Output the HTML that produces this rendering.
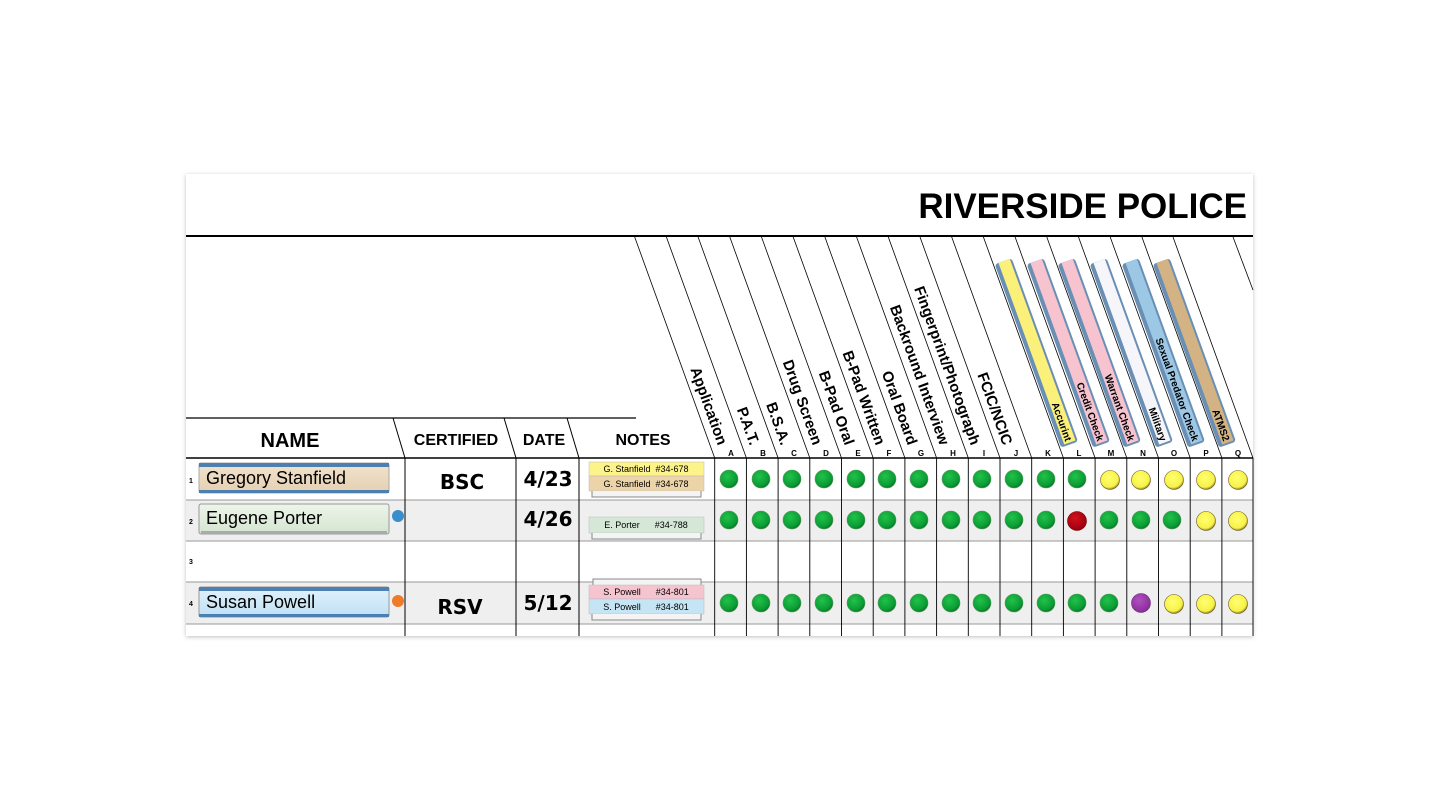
<!DOCTYPE html>
<html><head><meta charset="utf-8"><style>
html,body{margin:0;padding:0;background:#fff;width:1440px;height:810px;overflow:hidden}
svg{display:block;font-family:"Liberation Sans",Arial,sans-serif}
</style></head><body>
<svg width="1440" height="810" viewBox="0 0 1440 810" xmlns="http://www.w3.org/2000/svg">
<defs>
<filter id="sh" x="-5%" y="-5%" width="110%" height="110%"><feDropShadow dx="0" dy="1" stdDeviation="2" flood-color="#000" flood-opacity="0.25"/></filter>
<radialGradient id="gG" cx="40%" cy="35%" r="65%"><stop offset="0" stop-color="#22c24a"/><stop offset="0.8" stop-color="#0a9c34"/><stop offset="1" stop-color="#087a28"/></radialGradient>
<radialGradient id="gY" cx="45%" cy="40%" r="60%"><stop offset="0" stop-color="#ffff70"/><stop offset="0.8" stop-color="#f7f247"/><stop offset="1" stop-color="#8a7a30"/></radialGradient>
<radialGradient id="gR" cx="40%" cy="35%" r="65%"><stop offset="0" stop-color="#d4101c"/><stop offset="1" stop-color="#9a0010"/></radialGradient>
<radialGradient id="gP" cx="40%" cy="35%" r="65%"><stop offset="0" stop-color="#b050c0"/><stop offset="1" stop-color="#8a2e9a"/></radialGradient>
<linearGradient id="nTan" x1="0" y1="0" x2="0" y2="1"><stop offset="0" stop-color="#f2e3cd"/><stop offset="1" stop-color="#e4d0b2"/></linearGradient>
<linearGradient id="nGrn" x1="0" y1="0" x2="0" y2="1"><stop offset="0" stop-color="#eef5ea"/><stop offset="1" stop-color="#d4e4d0"/></linearGradient>
<linearGradient id="nBlu" x1="0" y1="0" x2="0" y2="1"><stop offset="0" stop-color="#e2f2fc"/><stop offset="1" stop-color="#bfe0f4"/></linearGradient>
</defs>

<rect x="186" y="174" width="1067" height="462" fill="#fff" filter="url(#sh)"/>
<text x="1247" y="218" font-size="35" font-weight="bold" text-anchor="end">RIVERSIDE POLICE</text>
<line x1="186" y1="236" x2="1253" y2="236" stroke="#000" stroke-width="2"/>

<rect x="186" y="500" width="1067" height="41" fill="#efefef"/>
<rect x="186" y="582" width="1067" height="42" fill="#efefef"/>

<line x1="186" y1="418" x2="636" y2="418" stroke="#000" stroke-width="1.2"/>
<line x1="393" y1="418" x2="405" y2="458" stroke="#000"/>
<line x1="504" y1="418" x2="516" y2="458" stroke="#000"/>
<line x1="567" y1="418" x2="579" y2="458" stroke="#000"/>
<text x="290" y="447" font-size="20" font-weight="bold" text-anchor="middle">NAME</text>
<text x="456" y="445" font-size="16" font-weight="bold" text-anchor="middle">CERTIFIED</text>
<text x="544" y="445" font-size="16" font-weight="bold" text-anchor="middle">DATE</text>
<text x="643" y="445" font-size="16" font-weight="bold" text-anchor="middle">NOTES</text>

<g stroke="#999" stroke-width="1">
<line x1="186" y1="500" x2="1253" y2="500"/>
<line x1="186" y1="541" x2="1253" y2="541"/>
<line x1="186" y1="582" x2="1253" y2="582"/>
<line x1="186" y1="624" x2="1253" y2="624"/>
</g>
<line x1="186" y1="458" x2="1253" y2="458" stroke="#000" stroke-width="1.5"/>
<g stroke="#000" stroke-width="1">
<line x1="405" y1="458" x2="405" y2="636"/>
<line x1="516" y1="458" x2="516" y2="636"/>
<line x1="579" y1="458" x2="579" y2="636"/>
</g>

<g>
<rect x="199" y="463" width="190" height="30" rx="2" fill="url(#nTan)" stroke="#aaa"/>
<rect x="199" y="463" width="190" height="4" fill="#4d7fb0"/>
<rect x="199" y="490" width="190" height="3" fill="#4d7fb0"/>
<text x="206" y="484" font-size="18">Gregory Stanfield</text>
<rect x="199" y="504" width="190" height="30" rx="2" fill="url(#nGrn)" stroke="#999"/>
<rect x="201" y="531" width="186" height="3" fill="#aaa"/>
<text x="206" y="524" font-size="18">Eugene Porter</text>
<circle cx="398" cy="516" r="6" fill="#3a8ecb"/>
<rect x="199" y="587" width="190" height="30" rx="2" fill="url(#nBlu)" stroke="#999"/>
<rect x="199" y="587" width="190" height="4" fill="#4d7fb0"/>
<rect x="199" y="614" width="190" height="3" fill="#4d7fb0"/>
<text x="206" y="608" font-size="18">Susan Powell</text>
<circle cx="398" cy="601" r="6" fill="#ee7a2a"/>
</g>
<g font-size="7" font-weight="bold">
<text x="189" y="483">1</text><text x="189" y="524">2</text><text x="189" y="564">3</text><text x="189" y="606">4</text>
</g>
<g font-size="20" font-weight="bold" text-anchor="middle" font-family="DejaVu Sans,sans-serif">
<text x="462" y="489">BSC</text>
<text x="548" y="486">4/23</text>
<text x="548" y="526">4/26</text>
<text x="460" y="614">RSV</text>
<text x="548" y="610">5/12</text>
</g>

<g font-size="9">
<rect x="589" y="462" width="115" height="14" fill="#fcf38a" stroke="#bbb" stroke-width="0.5"/>
<rect x="589" y="476" width="115" height="15" fill="#ecd3a8" stroke="#bbb" stroke-width="0.5"/>
<path d="M592 491 v6 h109 v-6" fill="#f4f4f4" stroke="#888"/>
<text x="646" y="472" text-anchor="middle" xml:space="preserve">G. Stanfield  #34-678</text>
<text x="646" y="487" text-anchor="middle" xml:space="preserve">G. Stanfield  #34-678</text>
<rect x="589" y="517" width="115" height="16" fill="#d5e8d8" stroke="#bbb" stroke-width="0.5"/>
<path d="M592 533 v6 h109 v-6" fill="#f4f4f4" stroke="#888"/>
<text x="646" y="528" text-anchor="middle" xml:space="preserve">E. Porter      #34-788</text>
<path d="M593 585 v-6 h108 v6" fill="#f4f4f4" stroke="#888"/>
<rect x="589" y="585" width="115" height="14" fill="#f6c4cf" stroke="#bbb" stroke-width="0.5"/>
<rect x="589" y="599" width="115" height="15" fill="#c5e4f4" stroke="#bbb" stroke-width="0.5"/>
<path d="M592 614 v6 h109 v-6" fill="#f4f4f4" stroke="#888"/>
<text x="646" y="595" text-anchor="middle" xml:space="preserve">S. Powell      #34-801</text>
<text x="646" y="610" text-anchor="middle" xml:space="preserve">S. Powell      #34-801</text>
</g>

<g stroke="#000" stroke-width="0.9">
<line x1="714.7" y1="458" x2="714.7" y2="636"/><line x1="746.4" y1="458" x2="746.4" y2="636"/><line x1="778.1" y1="458" x2="778.1" y2="636"/><line x1="809.8" y1="458" x2="809.8" y2="636"/><line x1="841.5" y1="458" x2="841.5" y2="636"/><line x1="873.2" y1="458" x2="873.2" y2="636"/><line x1="904.9" y1="458" x2="904.9" y2="636"/><line x1="936.6" y1="458" x2="936.6" y2="636"/><line x1="968.3" y1="458" x2="968.3" y2="636"/><line x1="1000" y1="458" x2="1000" y2="636"/><line x1="1031.7" y1="458" x2="1031.7" y2="636"/><line x1="1063.4" y1="458" x2="1063.4" y2="636"/><line x1="1095.1" y1="458" x2="1095.1" y2="636"/><line x1="1126.8" y1="458" x2="1126.8" y2="636"/><line x1="1158.5" y1="458" x2="1158.5" y2="636"/><line x1="1190.2" y1="458" x2="1190.2" y2="636"/><line x1="1221.9" y1="458" x2="1221.9" y2="636"/><line x1="1253" y1="458" x2="1253" y2="636"/>
</g>
<g stroke="#000" stroke-width="0.8">
<line x1="714.7" y1="458" x2="634.7" y2="237"/><line x1="746.4" y1="458" x2="666.4" y2="237"/><line x1="778.1" y1="458" x2="698.1" y2="237"/><line x1="809.8" y1="458" x2="729.8" y2="237"/><line x1="841.5" y1="458" x2="761.5" y2="237"/><line x1="873.2" y1="458" x2="793.2" y2="237"/><line x1="904.9" y1="458" x2="824.9" y2="237"/><line x1="936.6" y1="458" x2="856.6" y2="237"/><line x1="968.3" y1="458" x2="888.3" y2="237"/><line x1="1000" y1="458" x2="920" y2="237"/><line x1="1031.7" y1="458" x2="951.7" y2="237"/><line x1="1063.4" y1="458" x2="983.4" y2="237"/><line x1="1095.1" y1="458" x2="1015.1" y2="237"/><line x1="1126.8" y1="458" x2="1046.8" y2="237"/><line x1="1158.5" y1="458" x2="1078.5" y2="237"/><line x1="1190.2" y1="458" x2="1110.2" y2="237"/><line x1="1221.9" y1="458" x2="1141.9" y2="237"/><line x1="1253" y1="458" x2="1173" y2="237"/>
<line x1="1253" y1="290" x2="1233" y2="237"/>
</g>

<g font-size="8" font-weight="bold" text-anchor="middle">
<text x="731" y="456">A</text><text x="763" y="456">B</text><text x="794" y="456">C</text><text x="826" y="456">D</text><text x="858" y="456">E</text><text x="889" y="456">F</text><text x="921" y="456">G</text><text x="953" y="456">H</text><text x="984" y="456">I</text><text x="1016" y="456">J</text><text x="1048" y="456">K</text><text x="1079" y="456">L</text><text x="1111" y="456">M</text><text x="1143" y="456">N</text><text x="1174" y="456">O</text><text x="1206" y="456">P</text><text x="1238" y="456">Q</text>
</g>

<g font-size="15" font-weight="bold" text-anchor="end">
<text transform="translate(718,446) rotate(70.1)">Application</text>
<text transform="translate(750,446) rotate(70.1)">P.A.T.</text>
<text transform="translate(781,446) rotate(70.1)">B.S.A.</text>
<text transform="translate(813,446) rotate(70.1)">Drug Screen</text>
<text transform="translate(845,446) rotate(70.1)">B-Pad Oral</text>
<text transform="translate(876,446) rotate(70.1)">B-Pad Written</text>
<text transform="translate(908,446) rotate(70.1)">Oral Board</text>
<text transform="translate(940,446) rotate(70.1)">Backround Interview</text>
<text transform="translate(971,446) rotate(70.1)">Fingerprint/Photograph</text>
<text transform="translate(1003,446) rotate(70.1)">FCIC/NCIC</text>
</g>
<g font-size="10" font-weight="bold" text-anchor="end">
<g transform="translate(1063,447) rotate(70.1)"><rect x="-195" y="-16" width="195" height="18" rx="3" fill="#6a8fb5"/><rect x="-195" y="-14" width="193" height="12" fill="#fbf07a"/><text x="-4" y="-4">Accurint</text></g>
<g transform="translate(1095,447) rotate(70.1)"><rect x="-195" y="-16" width="195" height="18" rx="3" fill="#6a8fb5"/><rect x="-195" y="-14" width="193" height="12" fill="#f6c3cf"/><text x="-4" y="-4">Credit Check</text></g>
<g transform="translate(1126,447) rotate(70.1)"><rect x="-195" y="-16" width="195" height="18" rx="3" fill="#6a8fb5"/><rect x="-195" y="-14" width="193" height="12" fill="#f6c3cf"/><text x="-4" y="-4">Warrant Check</text></g>
<g transform="translate(1158,447) rotate(70.1)"><rect x="-195" y="-16" width="195" height="18" rx="3" fill="#6a8fb5"/><rect x="-195" y="-14" width="193" height="12" fill="#f6f6fa"/><text x="-4" y="-4">Military</text></g>
<g transform="translate(1190,447) rotate(70.1)"><rect x="-195" y="-16" width="195" height="18" rx="3" fill="#6a8fb5"/><rect x="-195" y="-14" width="193" height="12" fill="#9cc8e6"/><text x="-4" y="-4">Sexual Predator Check</text></g>
<g transform="translate(1221,447) rotate(70.1)"><rect x="-195" y="-16" width="195" height="18" rx="3" fill="#6a8fb5"/><rect x="-195" y="-14" width="193" height="12" fill="#d3b383"/><text x="-4" y="-4">ATMS2</text></g>
</g>

<g stroke-width="0.6">
<g fill="url(#gG)" stroke="#5a9a60">
<circle cx="729" cy="479" r="9"/><circle cx="761" cy="479" r="9"/><circle cx="792" cy="479" r="9"/><circle cx="824" cy="479" r="9"/><circle cx="856" cy="479" r="9"/><circle cx="887" cy="479" r="9"/><circle cx="919" cy="479" r="9"/><circle cx="951" cy="479" r="9"/><circle cx="982" cy="479" r="9"/><circle cx="1014" cy="479" r="9"/><circle cx="1046" cy="479" r="9"/><circle cx="1077" cy="479" r="9"/>
<circle cx="729" cy="520" r="9"/><circle cx="761" cy="520" r="9"/><circle cx="792" cy="520" r="9"/><circle cx="824" cy="520" r="9"/><circle cx="856" cy="520" r="9"/><circle cx="887" cy="520" r="9"/><circle cx="919" cy="520" r="9"/><circle cx="951" cy="520" r="9"/><circle cx="982" cy="520" r="9"/><circle cx="1014" cy="520" r="9"/><circle cx="1046" cy="520" r="9"/><circle cx="1109" cy="520" r="9"/><circle cx="1141" cy="520" r="9"/><circle cx="1172" cy="520" r="9"/>
<circle cx="729" cy="603" r="9"/><circle cx="761" cy="603" r="9"/><circle cx="792" cy="603" r="9"/><circle cx="824" cy="603" r="9"/><circle cx="856" cy="603" r="9"/><circle cx="887" cy="603" r="9"/><circle cx="919" cy="603" r="9"/><circle cx="951" cy="603" r="9"/><circle cx="982" cy="603" r="9"/><circle cx="1014" cy="603" r="9"/><circle cx="1046" cy="603" r="9"/><circle cx="1077" cy="603" r="9"/><circle cx="1109" cy="603" r="9"/>
</g>
<g fill="url(#gY)" stroke="#6b5a20">
<circle cx="1110" cy="480" r="9.5"/><circle cx="1141" cy="480" r="9.5"/><circle cx="1174" cy="480" r="9.5"/><circle cx="1206" cy="480" r="9.5"/><circle cx="1238" cy="480" r="9.5"/>
<circle cx="1206" cy="521" r="9.5"/><circle cx="1238" cy="521" r="9.5"/>
<circle cx="1174" cy="604" r="9.5"/><circle cx="1206" cy="604" r="9.5"/><circle cx="1238" cy="604" r="9.5"/>
</g>
<circle cx="1077" cy="521" r="9.5" fill="url(#gR)" stroke="#700"/>
<circle cx="1141" cy="603" r="9.5" fill="url(#gP)" stroke="#6a2a7a"/>
</g>
</svg>
</body></html>
